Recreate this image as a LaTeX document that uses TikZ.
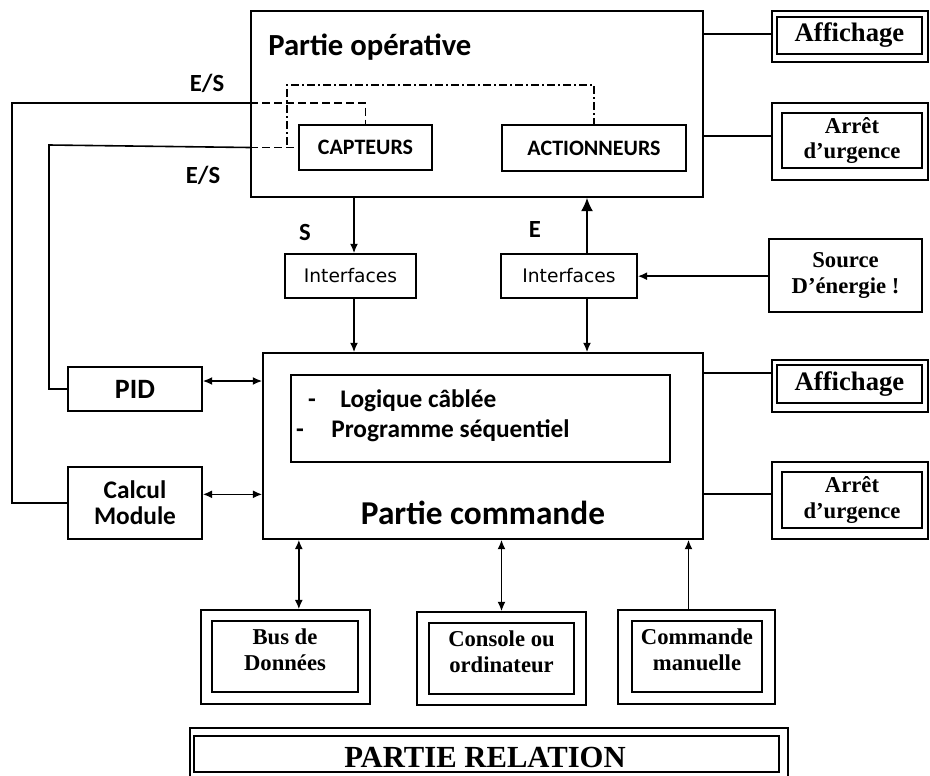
\documentclass[tikz,border=0pt]{standalone}
\usepackage{fontspec}
\setmainfont{Liberation Serif}
\newfontfamily\calfont{Carlito}
\newfontfamily\dvfont{DejaVu Sans}
\usetikzlibrary{arrows.meta,fit,calc}

\tikzset{
  line/.style={line width=1.2pt},
  box/.style={draw, line width=1.2pt, inner sep=0pt},
  txt/.style={inner sep=0pt, align=center},
  sanslabel/.style={txt, font=\calfont\bfseries\fontsize{18.5}{20}\selectfont},
  listtext/.style={inner sep=0pt, font=\calfont\bfseries\fontsize{19}{21}\selectfont},
  seriftext/.style={txt, font=\bfseries\fontsize{17}{19}\selectfont},
  ifacetext/.style={txt, font=\dvfont\fontsize{14}{16}\selectfont},
  ar/.style={line, -{Latex[length=7pt,width=6pt]}},
  biar/.style={line, {Latex[length=7pt,width=6pt]}-{Latex[length=7pt,width=6pt]}},
  dashedline/.style={line, dash pattern=on 6pt off 3pt},
  dashdotline/.style={line, dash pattern=on 6pt off 2.5pt on 1pt off 2.5pt},
}

\begin{document}
\begin{tikzpicture}[x=0.75pt,y=-0.75pt]
\useasboundingbox (0,0) rectangle (930,775);
\fill[white] (0,0) rectangle (930,775);

% ---------- Partie operative ----------
\node[box, fit={(251,11)(703,197)}] (op) {};
\node[anchor=west, font=\calfont\bfseries\fontsize{23}{25}\selectfont, inner sep=0pt] (optitle) at (268,47) {Partie opérative};
\node[box, fit={(299,125)(432,170)}] (capt) {};
\node[txt, font=\calfont\bfseries\fontsize{16.5}{18}\selectfont] (captt) at (capt.center) {CAPTEURS};
\node[box, fit={(502,125)(686,171)}] (act) {};
\node[txt, font=\calfont\bfseries\fontsize{16.5}{18}\selectfont] (actt) at (act.center) {ACTIONNEURS};

% internal links of the operative part
\coordinate (dA) at (287,145);
\coordinate (dB) at (287,85);
\coordinate (dC) at (act.north |- dB);
\draw[dashdotline] (dA) -- (dB) -- (dC) -- (act.north);

\coordinate (esTop) at (op.west |- 0,103);
\coordinate (esBot) at (op.west |- capt.west);
\coordinate (dD) at (capt.north |- esTop);
\draw[dashedline] (esTop) -- (dD) -- (capt.north);
\draw[dashedline] (esBot) -- (capt.west);

% ---------- Interfaces ----------
\node[box, fit={(285,254)(416,298)}] (ifl) {};
\node[ifacetext] (iflt) at (ifl.center) {Interfaces};
\node[box, fit={(501,254)(637,298)}] (ifr) {};
\node[ifacetext] (ifrt) at (ifr.center) {Interfaces};
\node[sanslabel] (lS) at (305,232) {S};
\node[sanslabel] (lE) at (535,229) {E};

% ---------- Partie commande ----------
\node[box, fit={(263,353)(703,539)}] (cmd) {};
\node[box, fit={(291,375)(670,462)}] (logic) {};
\node[listtext, anchor=base] (d1) at (312,407) {-};
\node[listtext, anchor=base west] (t1) at (340,407) {Logique câblée};
\node[listtext, anchor=base] (d2) at (300,437) {-};
\node[listtext, anchor=base west] (t2) at (331,437) {Programme séquentiel};
\node[txt, font=\calfont\bfseries\fontsize{25}{27}\selectfont] (cmdtitle) at (483,513) {Partie commande};

% ---------- PID / Calcul ----------
\node[box, fit={(68,367)(202,411)}] (pid) {};
\node[txt, font=\calfont\bfseries\fontsize{21}{23}\selectfont] (pidt) at (pid.center) {PID};
\node[box, fit={(68,467)(202,539)}] (calc) {};
\node[txt, font=\calfont\bfseries\fontsize{19}{19.5}\selectfont] (calct) at (calc.center) {Calcul\\Module};

\node[sanslabel] (es1) at (207,83) {E/S};
\node[sanslabel] (es2) at (203,175) {E/S};

\coordinate (o1) at (12,103);
\coordinate (o2) at (o1 |- calc.west);
\draw[line] (esTop) -- (o1) -- (o2) -- (calc.west);
\coordinate (i1) at (49,145);
\coordinate (i2) at (i1 |- pid.west);
\draw[line] (esBot) -- (i1) -- (i2) -- (pid.west);

\draw[biar] ([yshift=6pt]pid.east) -- ([yshift=6pt]pid.east -| cmd.west);
\draw[biar] ([yshift=6.5pt]calc.east) -- ([yshift=6.5pt]calc.east -| cmd.west);

% ---------- vertical links ----------
\coordinate (sx) at (354,0);
\draw[ar] (op.south -| sx) -- (ifl.north -| sx);
\draw[ar] (ifl.south -| sx) -- (cmd.north -| sx);
\coordinate (ex) at (587,0);
\draw[line, -{Latex[length=10pt,width=9pt]}] (ifr.north -| ex) -- (op.south -| ex);
\draw[ar] (ifr.south -| ex) -- (cmd.north -| ex);

% ---------- energy source ----------
\node[box, fit={(769,239)(922,312)}] (src) {};
\node[seriftext] (srct) at (src.center) {Source\\D’énergie !};
\draw[ar] ([yshift=-0.5pt]src.west) -- ([yshift=-0.5pt]src.west -| ifr.east);

% ---------- right-hand double boxes ----------
\node[box, fit={(772,11)(928,62)}] (aff1) {};
\node[box, fit={(777,17)(922,54)}] (aff1i) {};
\node[txt, font=\bfseries\fontsize{20}{21}\selectfont] (aff1t) at (aff1i.center) {Affichage};
\draw[line] ([yshift=2pt]aff1.west) -- ([yshift=2pt]aff1.west -| op.east);

\node[box, fit={(772,103)(928,180)}] (arr1) {};
\node[box, fit={(782,113)(922,168)}] (arr1i) {};
\node[seriftext] (arr1t) at (arr1i.center) {Arrêt\\d’urgence};
\draw[line] ([yshift=4pt]arr1.west) -- ([yshift=4pt]arr1.west -| op.east);

\node[box, fit={(772,360)(928,412)}] (aff2) {};
\node[box, fit={(777,365)(922,403)}] (aff2i) {};
\node[txt, font=\bfseries\fontsize{20}{21}\selectfont] (aff2t) at (aff2i.center) {Affichage};
\draw[line] ([yshift=9.75pt]aff2.west) -- ([yshift=9.75pt]aff2.west -| cmd.east);

\node[box, fit={(772,462)(928,539)}] (arr2) {};
\node[box, fit={(782,472)(922,528)}] (arr2i) {};
\node[seriftext] (arr2t) at (arr2i.center) {Arrêt\\d’urgence};
\draw[line] ([yshift=4.9pt]arr2.west) -- ([yshift=4.9pt]arr2.west -| cmd.east);

% ---------- bottom double boxes ----------
\node[box, fit={(201,610)(370,704)}] (bus) {};
\node[box, fit={(212,621)(358,692)}] (busi) {};
\node[seriftext] (bust) at ([yshift=5pt]busi.center) {Bus de\\Données};
\draw[biar] ([xshift=10pt]bus.north) -- ([xshift=10pt]bus.north |- cmd.south);

\node[box, fit={(417,612)(586,705)}] (cons) {};
\node[box, fit={(429,623)(574,694)}] (consi) {};
\node[seriftext] (const) at ([yshift=5pt]consi.center) {Console ou\\ordinateur};
\draw[biar] (cons.north) -- (cons.north |- cmd.south);

\node[box, fit={(618,610)(775,704)}] (man) {};
\node[box, fit={(632,621)(762,692)}] (mani) {};
\node[seriftext] (mant) at ([yshift=5pt]mani.center) {Commande\\manuelle};
\draw[ar] ([xshift=-6pt]man.north) -- ([xshift=-6pt]man.north |- cmd.south);

% ---------- partie relation ----------
\node[box, fit={(190,728)(788,782)}] (rel) {};
\node[box, fit={(194,736)(779,772)}] (reli) {};
\node[txt, font=\bfseries\fontsize{23}{24}\selectfont] (relt) at (485,757) {PARTIE RELATION};
\end{tikzpicture}
\end{document}
